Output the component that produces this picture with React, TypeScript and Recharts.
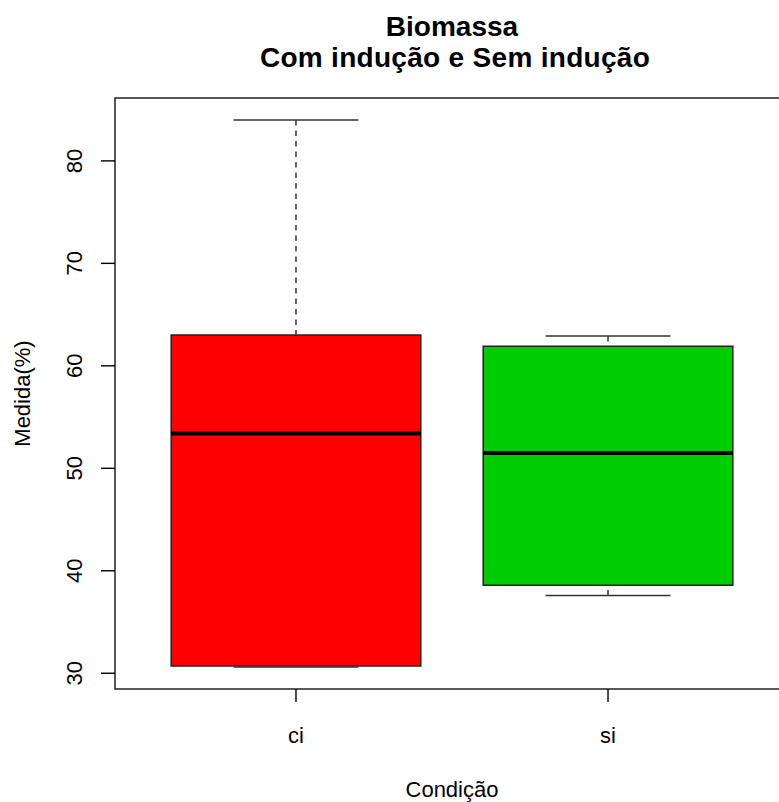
import React from 'react'
import {
  ComposedChart,
  XAxis,
  YAxis,
  ReferenceArea,
  ReferenceLine,
} from 'recharts'

// five-number summaries per condition
const categories = ['ci', 'si']
const mins = [30.6, 37.6]
const q1s = [30.7, 38.6]
const medians = [53.4, 51.5]
const q3s = [63.0, 61.9]
const maxs = [84.0, 62.9]
const fills = ['#FF0000', '#00CD00']
const yTicks = [30, 40, 50, 60, 70, 80]
const xTicks = [1, 2]

const FONT = '"Liberation Sans", Arial, sans-serif'

const boxes = categories.map((name, i) => ({
  pos: i + 1,
  name,
  min: mins[i],
  q1: q1s[i],
  median: medians[i],
  q3: q3s[i],
  max: maxs[i],
  fill: fills[i],
}))

// base-R style 4% padding on both axes
const lo = Math.min(...mins)
const hi = Math.max(...maxs)
const pad = (hi - lo) * 0.04
const yDomain: [number, number] = [lo - pad, hi + pad]
const xDomain: [number, number] = [0.5 - 0.08, categories.length + 0.5 + 0.08]

const BOX_HALF = 0.4
const CAP_HALF = 0.2

function YTick({ x, y, payload }: any) {
  return (
    <text
      x={x}
      y={y}
      transform={`rotate(-90 ${x} ${y})`}
      textAnchor="middle"
      fontSize={22}
      fontFamily={FONT}
      fill="#000"
    >
      {payload.value}
    </text>
  )
}

function XTick({ x, y, payload }: any) {
  return (
    <text x={x} y={y} textAnchor="middle" fontSize={22} fontFamily={FONT} fill="#000">
      {categories[payload.value - 1]}
    </text>
  )
}

export default function App() {
  return (
    <div
      style={{
        position: 'fixed',
        left: 0,
        top: 0,
        width: 779,
        height: 802,
        overflow: 'hidden',
        background: '#fff',
      }}
    >
      <ComposedChart
        width={800}
        height={802}
        data={boxes}
        margin={{ top: 98, right: 11, bottom: 0, left: 0 }}
      >
        <XAxis
          type="number"
          dataKey="pos"
          domain={xDomain}
          allowDataOverflow
          ticks={xTicks}
          axisLine={false}
          tickSize={13}
          tickMargin={41}
          tickLine={{ stroke: '#000', strokeWidth: 1.4 }}
          tick={<XTick />}
          height={113}
          label={{
            content: ({ viewBox }: any) => (
              <text
                x={viewBox.x + viewBox.width / 2}
                y={viewBox.y + 108}
                textAnchor="middle"
                fontSize={22}
                fontFamily={FONT}
                fill="#000"
              >
                Condição
              </text>
            ),
          }}
        />
        <YAxis
          type="number"
          domain={yDomain}
          allowDataOverflow
          ticks={yTicks}
          axisLine={false}
          tickSize={14}
          tickMargin={19}
          tickLine={{ stroke: '#000', strokeWidth: 1.4 }}
          tick={<YTick />}
          width={115}
          label={{
            content: ({ viewBox }: any) => {
              const cx = 30
              const cy = viewBox.y + viewBox.height / 2
              return (
                <text
                  x={cx}
                  y={cy}
                  transform={`rotate(-90 ${cx} ${cy})`}
                  textAnchor="middle"
                  fontSize={22}
                  fontFamily={FONT}
                  fill="#000"
                >
                  Medida(%)
                </text>
              )
            },
          }}
        />

        {/* plot frame */}
        <ReferenceArea
          x1={xDomain[0]}
          x2={xDomain[1]}
          y1={yDomain[0]}
          y2={yDomain[1]}
          fill="none"
          stroke="#222"
          strokeWidth={1.5}
        />

        {/* whiskers and staples */}
        {boxes.map((b) => (
          <ReferenceLine
            key={`wu-${b.name}`}
            segment={[{ x: b.pos, y: b.max }, { x: b.pos, y: b.q3 }]}
            stroke="#333"
            strokeWidth={1.5}
            strokeDasharray="5.5 5"
          />
        ))}
        {boxes.map((b) => (
          <ReferenceLine
            key={`wl-${b.name}`}
            segment={[{ x: b.pos, y: b.min }, { x: b.pos, y: b.q1 }]}
            stroke="#333"
            strokeWidth={1.5}
            strokeDasharray="5.5 5"
          />
        ))}
        {boxes.map((b) => (
          <ReferenceLine
            key={`cu-${b.name}`}
            segment={[{ x: b.pos - CAP_HALF, y: b.max }, { x: b.pos + CAP_HALF, y: b.max }]}
            stroke="#333"
            strokeWidth={1.5}
          />
        ))}
        {boxes.map((b) => (
          <ReferenceLine
            key={`cl-${b.name}`}
            segment={[{ x: b.pos - CAP_HALF, y: b.min }, { x: b.pos + CAP_HALF, y: b.min }]}
            stroke="#333"
            strokeWidth={1.5}
          />
        ))}

        {/* boxes */}
        {boxes.map((b) => (
          <ReferenceArea
            key={`box-${b.name}`}
            x1={b.pos - BOX_HALF}
            x2={b.pos + BOX_HALF}
            y1={b.q1}
            y2={b.q3}
            fill={b.fill}
            fillOpacity={1}
            stroke="#222"
            strokeWidth={1.5}
          />
        ))}

        {/* medians */}
        {boxes.map((b) => (
          <ReferenceLine
            key={`med-${b.name}`}
            segment={[{ x: b.pos - BOX_HALF, y: b.median }, { x: b.pos + BOX_HALF, y: b.median }]}
            stroke="#000"
            strokeWidth={4}
          />
        ))}
      </ComposedChart>

      <svg
        width={779}
        height={90}
        style={{ position: 'absolute', left: 0, top: 0 }}
      >
        <text x={452} y={36} textAnchor="middle" fontSize={28} fontWeight="bold" fontFamily={FONT} fill="#000">
          Biomassa
        </text>
        <text
          x={455}
          y={67}
          textAnchor="middle"
          fontSize={28}
          fontWeight="bold"
          fontFamily={FONT}
          letterSpacing={0.3}
          fill="#000"
        >
          Com indução e Sem indução
        </text>
      </svg>
    </div>
  )
}
